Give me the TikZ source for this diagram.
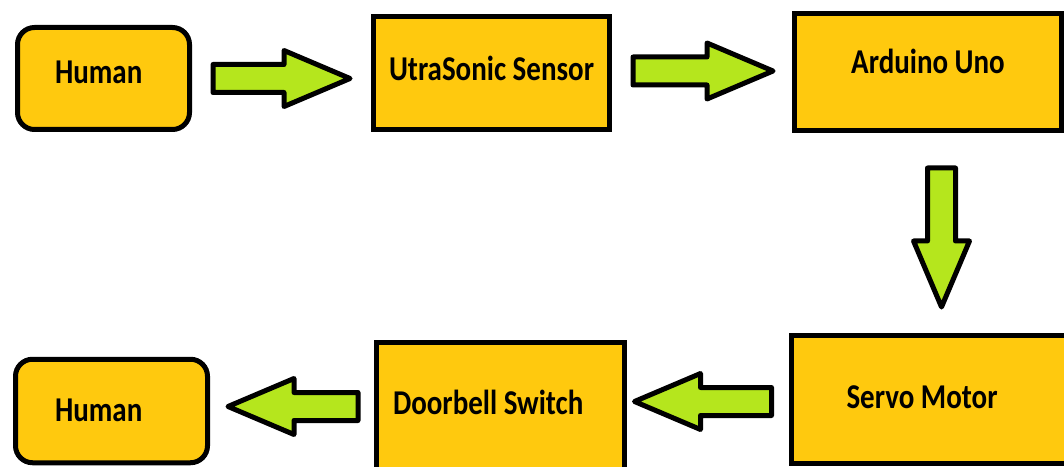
\documentclass[tikz,border=0pt]{standalone}
\usepackage{graphicx}
\usepackage{fontspec}
\setmainfont{Carlito}
\usetikzlibrary{calc}

\definecolor{boxgold}{RGB}{255,201,14}
\definecolor{arrowlime}{RGB}{181,230,29}

\newcommand{\tall}[1]{\scalebox{1}[1.2]{#1}}

\tikzset{
  box/.style={draw=black, line width=5pt, fill=boxgold, inner sep=0pt,
    font=\fontsize{29}{32}\selectfont\bfseries, text height=22pt, text depth=0pt},
  raise/.style={text depth=2*#1},
  lbox/.style 2 args={align=flush left, inner xsep=#1, text width=#2},
  limearrow/.style={draw=black, line width=5pt, fill=arrowlime, line join=round},
}

% block arrow from tail #1 to tip #2
\newcommand{\limearrow}[2]{%
  \path ($(#2)!66pt!(#1)$) coordinate (#1h);
  \draw[limearrow] ($(#1)!14pt!90:(#2)$) -- ($(#1h)!14pt!90:(#2)$)
    -- ($(#1h)!28pt!90:(#2)$) -- (#2) -- ($(#1h)!28pt!-90:(#2)$)
    -- ($(#1h)!14pt!-90:(#2)$) -- ($(#1)!14pt!-90:(#2)$) -- cycle;
}

\begin{document}
\begin{tikzpicture}[x=1pt, y=1pt]
  \useasboundingbox (0,0) rectangle (1064,466);
  \clip (0,0) rectangle (1064,466);

  % top row
  \node[box, rounded corners=17pt, lbox={37.5pt}{97pt}, minimum height=102pt, raise=5.5pt] (hum1) at (103.5,387.5) {\tall{Human}};
  \node[box, minimum width=236pt, minimum height=113pt, raise=3pt] (uss) at (491.5,393) {\tall{UtraSonic Sensor}};
  \node[box, minimum width=267pt, minimum height=117pt, raise=9pt] (ard) at (928,394) {\tall{Arduino Uno}};

  % bottom row
  \node[box, lbox={55.5pt}{170pt}, minimum height=128pt, raise=2.5pt] (srv) at (931.5,66.5) {\tall{Servo Motor}};
  \node[box, lbox={16.5pt}{215pt}, minimum height=140pt, raise=9.5pt] (dbs) at (500.5,53.5) {\tall{Doorbell Switch}};
  \node[box, rounded corners=17pt, lbox={39.5pt}{113pt}, minimum height=103.5pt, raise=1pt] (hum2) at (111.5,55) {\tall{Human}};

  % arrow ends
  \coordinate (a1s) at ([xshift=21pt]hum1.east);
  \coordinate (a1e) at ([xshift=137pt]a1s);
  \coordinate (a2s) at ([shift={(21pt,2pt)}]uss.east);
  \coordinate (a2e) at ([xshift=140pt]a2s);
  \coordinate (a3s) at ([shift={(13.5pt,-35pt)}]ard.south);
  \coordinate (a3e) at ([yshift=-139pt]a3s);
  \coordinate (a4s) at ([shift={(-17pt,-2pt)}]srv.west);
  \coordinate (a4e) at ([xshift=-137pt]a4s);
  \coordinate (a5s) at ([shift={(-16pt,6pt)}]dbs.west);
  \coordinate (a5e) at ([xshift=-130pt]a5s);

  % block arrows
  \limearrow{a1s}{a1e}
  \limearrow{a2s}{a2e}
  \limearrow{a3s}{a3e}
  \limearrow{a4s}{a4e}
  \limearrow{a5s}{a5e}
\end{tikzpicture}
\end{document}
